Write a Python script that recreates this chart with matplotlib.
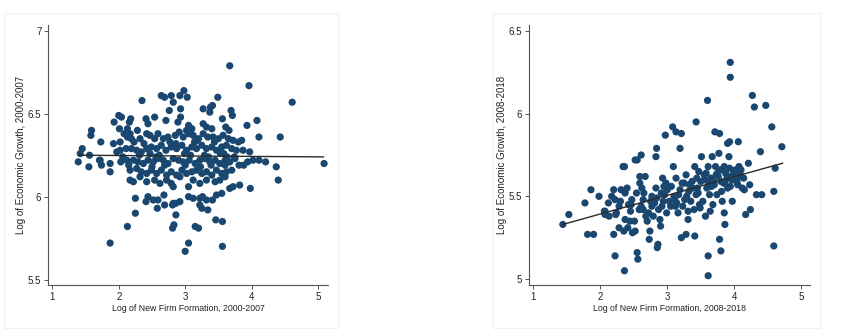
import matplotlib
matplotlib.use("Agg")
import matplotlib.pyplot as plt
from matplotlib.patches import Rectangle

# ---- Period 2000-2007 -------------------------------------------------
firms_0007 = [
    3.67, 3.96, 2.98, 2.92, 3.03, 2.64, 2.69, 2.79, 2.82, 2.35, 3.49, 4.61,
    3.27, 3.38, 3.41, 3.37, 2.76, 2.93, 2.93, 3.69, 3.71, 3.56, 4.08, 3.93,
    2.00, 2.04, 2.18, 2.16, 1.93, 2.41, 2.54, 2.44, 2.71, 2.89, 3.05, 3.02,
    3.10, 3.27, 3.32, 3.40, 3.61, 3.66, 4.11, 4.43, 1.59, 1.58, 2.01, 2.13,
    2.08, 2.17, 2.28, 1.73, 1.45, 1.92, 2.02, 2.13, 2.19, 2.32, 2.42, 2.47,
    2.54, 2.59, 2.67, 2.74, 2.85, 2.91, 2.97, 3.05, 3.12, 3.20, 3.27, 3.34,
    3.42, 3.50, 3.57, 3.65, 3.72, 3.80, 3.85, 2.02, 2.11, 2.19, 2.27, 2.34,
    2.42, 2.49, 2.57, 2.64, 2.71, 2.79, 2.87, 2.95, 3.02, 3.10, 3.17, 3.25,
    3.32, 3.40, 3.47, 3.55, 3.62, 3.70, 3.77, 3.87, 3.97, 1.72, 1.56, 1.42,
    1.97, 1.39, 1.55, 1.71, 1.74, 1.87, 1.87, 2.03, 2.12, 2.22, 2.29, 2.37,
    2.44, 2.52, 2.59, 2.67, 2.74, 2.82, 2.90, 2.97, 3.06, 3.15, 3.22, 3.30,
    3.37, 3.45, 3.52, 3.60, 3.67, 3.75, 3.81, 3.94, 4.02, 4.11, 4.21, 4.37,
    5.09, 4.40, 2.17, 2.27, 2.34, 2.42, 2.49, 2.57, 2.64, 2.72, 2.79, 2.87,
    2.95, 3.02, 3.10, 3.17, 3.25, 3.32, 3.40, 3.47, 3.55, 3.62, 3.70, 2.17,
    2.22, 2.32, 2.42, 2.54, 2.62, 2.72, 2.79, 2.82, 2.92, 3.05, 3.12, 3.22,
    3.32, 3.45, 3.52, 3.60, 3.67, 3.72, 3.82, 3.98, 2.25, 2.41, 2.44, 2.52,
    2.59, 2.68, 2.82, 2.86, 2.92, 3.05, 3.12, 3.22, 3.26, 3.32, 3.41, 3.47,
    3.55, 2.58, 2.69, 2.81, 3.22, 3.25, 2.25, 2.86, 3.34, 2.13, 2.81, 2.83,
    3.15, 3.20, 3.46, 3.56, 1.87, 3.05, 3.00, 3.56,
    2.23, 2.38, 2.47, 2.61, 2.77, 2.99, 3.14, 3.29, 3.44, 3.58, 3.63, 3.18,
    2.06, 2.31, 2.56, 2.86, 3.08, 3.35, 3.53, 3.74, 2.15, 2.50, 2.69, 3.00,
    3.23, 3.39, 3.60, 3.88,
]
growth_0007 = [
    6.79, 6.67, 6.64, 6.61, 6.60, 6.61, 6.60, 6.61, 6.57, 6.58, 6.60, 6.57,
    6.53, 6.54, 6.55, 6.51, 6.52, 6.53, 6.48, 6.52, 6.49, 6.47, 6.46, 6.43,
    6.49, 6.48, 6.47, 6.45, 6.45, 6.47, 6.48, 6.44, 6.46, 6.45, 6.43, 6.40,
    6.41, 6.44, 6.42, 6.41, 6.42, 6.40, 6.36, 6.36, 6.40, 6.37, 6.41, 6.41,
    6.38, 6.38, 6.40, 6.33, 6.29, 6.32, 6.33, 6.36, 6.35, 6.35, 6.38, 6.37,
    6.35, 6.38, 6.35, 6.36, 6.37, 6.39, 6.36, 6.38, 6.37, 6.35, 6.38, 6.36,
    6.36, 6.35, 6.37, 6.35, 6.34, 6.33, 6.34, 6.28, 6.29, 6.29, 6.28, 6.27,
    6.29, 6.30, 6.29, 6.31, 6.28, 6.30, 6.29, 6.31, 6.28, 6.30, 6.29, 6.31,
    6.29, 6.30, 6.28, 6.30, 6.31, 6.29, 6.28, 6.28, 6.27, 6.22, 6.25, 6.26,
    6.27, 6.21, 6.18, 6.22, 6.19, 6.20, 6.15, 6.21, 6.22, 6.22, 6.21, 6.20,
    6.22, 6.21, 6.23, 6.22, 6.20, 6.23, 6.22, 6.21, 6.22, 6.20, 6.22, 6.23,
    6.21, 6.22, 6.20, 6.22, 6.21, 6.23, 6.19, 6.21, 6.22, 6.22, 6.21, 6.18,
    6.20, 6.10, 6.16, 6.17, 6.15, 6.14, 6.16, 6.14, 6.16, 6.13, 6.15, 6.13,
    6.16, 6.14, 6.15, 6.16, 6.14, 6.15, 6.13, 6.16, 6.14, 6.15, 6.16, 6.10,
    6.09, 6.12, 6.09, 6.10, 6.08, 6.10, 6.08, 6.06, 6.12, 6.06, 6.10, 6.08,
    6.10, 6.09, 6.10, 6.12, 6.05, 6.06, 6.07, 6.05, 5.99, 5.97, 6.00, 5.98,
    5.98, 6.01, 5.96, 5.96, 5.97, 6.00, 5.99, 5.99, 6.00, 5.98, 5.98, 6.01,
    6.02, 5.93, 5.95, 5.95, 5.95, 5.93, 5.90, 5.89, 5.92, 5.82, 5.81, 5.83,
    5.82, 5.81, 5.86, 5.85, 5.72, 5.72, 5.67, 5.70,
    6.33, 6.32, 6.26, 6.25, 6.33, 6.26, 6.33, 6.25, 6.33, 6.26, 6.24, 6.34,
    6.24, 6.25, 6.24, 6.32, 6.25, 6.24, 6.26, 6.24, 6.19, 6.18, 6.19, 6.19,
    6.18, 6.19, 6.19, 6.19,
]
fit_x_0007 = [1.40, 5.08]
fit_y_0007 = [6.250, 6.240]

# ---- Period 2008-2018 -------------------------------------------------
firms_0818 = [
    3.94, 3.94, 3.60, 4.27, 4.30, 4.47, 4.56, 4.71, 3.43, 3.08, 2.97, 3.13,
    3.21, 3.19, 2.84, 2.83, 3.71, 3.78, 3.90, 3.93, 4.06, 4.39, 2.61, 2.55,
    2.52, 2.36, 4.61, 1.86, 1.77, 1.98, 1.53, 1.44, 1.81, 1.90, 2.07, 2.07,
    2.20, 2.22, 2.36, 2.55, 2.56, 2.73, 2.86, 2.85, 3.21, 3.28, 3.41, 3.61,
    3.61, 3.78, 3.80, 3.85, 3.86, 4.59, 4.59, 4.33, 4.41, 4.24, 4.17,
    2.20, 2.22, 2.17, 2.28, 2.31, 2.34, 2.40, 2.37, 2.24, 2.13, 2.06, 2.12,
    2.28, 2.35, 2.37, 2.41, 2.23, 2.45, 2.47, 2.54, 2.51, 2.52, 2.48, 2.62,
    2.61, 2.64, 2.59, 2.59, 2.67, 2.72, 2.70, 2.74, 2.77, 2.77, 2.83, 2.84,
    2.87, 2.89, 2.90, 2.92, 2.93, 2.96, 2.98, 2.99, 3.05, 3.06, 3.09, 3.11,
    3.13, 3.16, 3.17, 3.22, 3.23, 3.26, 3.28, 3.31, 3.32, 3.35, 3.37, 3.40,
    3.41, 3.43, 3.45, 3.48, 3.50, 3.51, 3.53, 3.55, 3.57, 3.59, 3.61, 3.63,
    3.65, 3.67, 3.68, 3.70, 3.72, 3.74, 3.75, 3.77, 3.80, 3.82, 3.85, 3.87,
    3.90, 3.92, 3.93, 3.95, 3.97, 3.99, 4.02, 4.04, 4.07, 4.09, 4.12, 4.14,
    4.21, 4.23,
    2.65, 2.80, 2.95, 3.10, 3.25, 3.38, 3.47, 3.56, 3.66, 3.76, 3.84, 3.96,
    4.03, 4.10, 2.42, 2.58, 2.75, 2.91, 3.03, 3.19, 3.33, 3.46, 3.58, 3.69,
    3.79, 3.89, 4.00, 4.08, 2.30, 2.46, 2.68, 2.81, 3.00, 3.14, 3.29, 3.44,
    3.62, 3.73, 3.86, 3.98, 4.05, 2.44, 2.64, 2.79, 2.94, 3.12, 3.31, 3.49,
    3.64, 3.81, 3.94, 4.15,
]
growth_0818 = [
    6.31, 6.22, 6.08, 6.11, 6.04, 6.05, 5.92, 5.80, 5.95, 5.92, 5.87, 5.89,
    5.88, 5.79, 5.79, 5.74, 5.89, 5.88, 5.82, 5.83, 5.83, 5.77, 5.75, 5.72,
    5.72, 5.68, 5.67, 5.54, 5.46, 5.50, 5.39, 5.33, 5.27, 5.27, 5.41, 5.39,
    5.27, 5.14, 5.05, 5.16, 5.12, 5.24, 5.21, 5.19, 5.25, 5.27, 5.26, 5.14,
    5.02, 5.24, 5.17, 5.40, 5.33, 5.53, 5.20, 5.51, 5.51, 5.42, 5.39,
    5.54, 5.48, 5.50, 5.44, 5.54, 5.68, 5.55, 5.52, 5.40, 5.38, 5.41, 5.46,
    5.31, 5.29, 5.36, 5.31, 5.39, 5.41, 5.48, 5.52, 5.35, 5.29, 5.28, 5.55,
    5.44, 5.48, 5.58, 5.62, 5.62, 5.40, 5.35, 5.29, 5.50, 5.44, 5.55, 5.49,
    5.42, 5.36, 5.32, 5.44, 5.61, 5.51, 5.58, 5.40, 5.44, 5.56, 5.68, 5.48,
    5.61, 5.40, 5.51, 5.58, 5.44, 5.48, 5.63, 5.36, 5.53, 5.47, 5.59, 5.42,
    5.68, 5.51, 5.55, 5.45, 5.59, 5.74, 5.47, 5.63, 5.38, 5.55, 5.68, 5.51,
    5.61, 5.74, 5.45, 5.57, 5.68, 5.51, 5.64, 5.76, 5.59, 5.47, 5.68, 5.64,
    5.55, 5.74, 5.67, 5.62, 5.47, 5.64, 5.66, 5.59, 5.68, 5.63, 5.55, 5.61,
    5.70, 5.57,
    5.52, 5.46, 5.56, 5.50, 5.58, 5.55, 5.65, 5.60, 5.56, 5.62, 5.58, 5.60,
    5.61, 5.66, 5.45, 5.42, 5.47, 5.52, 5.47, 5.54, 5.57, 5.52, 5.64, 5.59,
    5.66, 5.61, 5.65, 5.62, 5.47, 5.45, 5.38, 5.46, 5.54, 5.46, 5.50, 5.61,
    5.58, 5.63, 5.58, 5.60, 5.57, 5.35, 5.42, 5.38, 5.47, 5.44, 5.41, 5.43,
    5.41, 5.53, 5.56, 5.54,
]
fit_x_0818 = [1.44, 4.72]
fit_y_0818 = [5.330, 5.700]

x_ticks = [1, 2, 3, 4, 5]
y_ticks_0007 = [5.5, 6, 6.5, 7]
y_ticks_0818 = [5, 5.5, 6, 6.5]

navy = "#1a476f"
axis_grey = "#555555"
text_grey = "#222222"

plt.rcParams["font.family"] = ["Liberation Sans", "DejaVu Sans"]

fig = plt.figure(figsize=(8.51, 3.29), dpi=100)
fig.patch.set_facecolor("white")

# faint outer graph regions
for x0, x1 in [(4, 338), (493, 820)]:
    fig.add_artist(Rectangle((x0 / 851, 1 - 328 / 329), (x1 - x0) / 851,
                             (328 - 13) / 329, transform=fig.transFigure,
                             fill=False, edgecolor="#f1f1f1", linewidth=0.8))

panels = [
    dict(rect=[0.0568, 0.1328, 0.3287, 0.7912], x=firms_0007, y=growth_0007,
         fx=fit_x_0007, fy=fit_y_0007, xlim=(0.94, 5.15), ylim=(5.465, 7.036),
         yticks=y_ticks_0007, yticklabels=["5.5", "6", "6.5", "7"],
         xlabel="Log of New Firm Formation, 2000-2007",
         ylabel="Log of Economic Growth, 2000-2007"),
    dict(rect=[0.6220, 0.1328, 0.3298, 0.7912], x=firms_0818, y=growth_0818,
         fx=fit_x_0818, fy=fit_y_0818, xlim=(0.94, 5.13), ylim=(4.962, 6.536),
         yticks=y_ticks_0818, yticklabels=["5", "5.5", "6", "6.5"],
         xlabel="Log of New Firm Formation, 2008-2018",
         ylabel="Log of Economic Growth, 2008-2018"),
]

for p in panels:
    ax = fig.add_axes(p["rect"])
    ax.scatter(p["x"], p["y"], s=27, color=navy, edgecolors="none", zorder=2)
    ax.plot(p["fx"], p["fy"], color="#2b2b2b", linewidth=1.0, zorder=3)
    ax.set_xlim(*p["xlim"])
    ax.set_ylim(*p["ylim"])
    ax.set_xticks(x_ticks)
    ax.set_xticklabels([str(t) for t in x_ticks])
    ax.set_yticks(p["yticks"])
    ax.set_yticklabels(p["yticklabels"])
    for side in ("top", "right"):
        ax.spines[side].set_visible(False)
    for side in ("left", "bottom"):
        ax.spines[side].set_color(axis_grey)
        ax.spines[side].set_linewidth(0.8)
    ax.tick_params(axis="both", direction="out", length=3, width=0.7,
                   color=axis_grey, labelsize=7, labelcolor=text_grey, pad=2)
    ax.set_xlabel(p["xlabel"], fontsize=6.3, color=text_grey, labelpad=1)
    ax.set_ylabel(p["ylabel"], fontsize=7, color=text_grey, labelpad=1.5)

fig.savefig("out.png", dpi=100, facecolor="white")
